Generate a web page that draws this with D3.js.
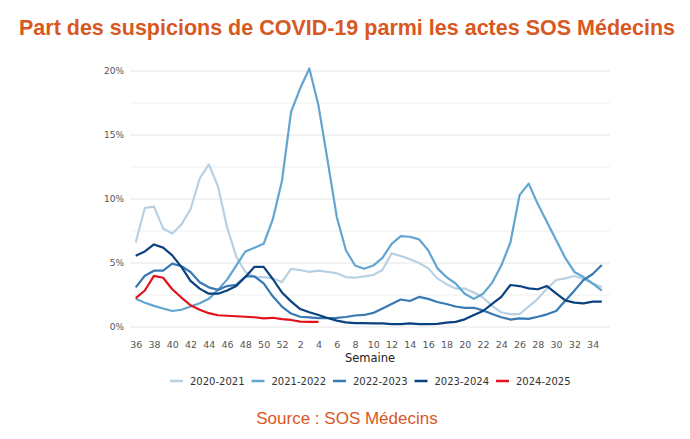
<!DOCTYPE html>
<html><head><meta charset="utf-8">
<script src="https://cdn.jsdelivr.net/npm/d3@7"></script>
<style>
html,body{margin:0;padding:0;background:#fff;}
svg{display:block;}
</style></head>
<body>
<script>
const weeks = [36,37,38,39,40,41,42,43,44,45,46,47,48,49,50,51,52,1,2,3,4,5,6,7,8,9,10,11,12,13,14,15,16,17,18,19,20,21,22,23,24,25,26,27,28,29,30,31,32,33,34,35];
const tickWeeks = [36,38,40,42,44,46,48,50,52,2,4,6,8,10,12,14,16,18,20,22,24,26,28,30,32,34];
const yTicks = [0,5,10,15,20];
const seasons = ["2020-2021","2021-2022","2022-2023","2023-2024","2024-2025"];
const s2020 = [6.6,9.3,9.4,7.7,7.3,8.0,9.2,11.6,12.7,11.0,7.8,5.5,4.3,3.9,3.9,3.8,3.5,4.55,4.45,4.3,4.4,4.3,4.2,3.9,3.85,3.95,4.06,4.45,5.75,5.55,5.3,5.0,4.6,3.8,3.35,3.0,3.0,2.7,2.3,1.65,1.15,1.0,1.0,1.6,2.2,3.0,3.67,3.8,3.98,3.75,3.4,3.12];
const s2021 = [2.2,1.9,1.65,1.45,1.25,1.35,1.6,1.85,2.2,2.9,3.7,4.8,5.9,6.2,6.5,8.4,11.4,16.8,18.65,20.2,17.3,13.0,8.6,6.0,4.8,4.55,4.8,5.4,6.5,7.1,7.05,6.85,6.0,4.6,3.9,3.4,2.6,2.2,2.6,3.45,4.8,6.6,10.3,11.2,9.6,8.2,6.8,5.4,4.3,3.9,3.4,2.85];
const s2022 = [3.1,4.0,4.4,4.4,4.95,4.75,4.3,3.5,3.1,2.9,3.2,3.3,3.95,3.95,3.4,2.4,1.6,1.05,0.8,0.75,0.7,0.7,0.72,0.78,0.9,0.94,1.1,1.45,1.8,2.15,2.03,2.35,2.2,1.95,1.8,1.6,1.5,1.5,1.3,1.02,0.76,0.58,0.68,0.63,0.8,0.99,1.25,2.05,2.84,3.67,4.14,4.84];
const s2023 = [5.57,5.9,6.45,6.2,5.6,4.7,3.6,3.0,2.6,2.6,2.85,3.2,3.9,4.7,4.7,3.75,2.7,2.0,1.4,1.15,0.94,0.7,0.5,0.36,0.3,0.3,0.28,0.28,0.23,0.22,0.28,0.22,0.22,0.25,0.34,0.4,0.6,0.94,1.25,1.8,2.35,3.28,3.2,3.02,2.95,3.2,2.63,2.08,1.9,1.85,1.98,1.98];
const s2024 = [2.25,2.85,4.0,3.85,2.95,2.3,1.7,1.35,1.08,0.92,0.88,0.84,0.8,0.76,0.68,0.72,0.62,0.55,0.42,0.4,0.4];
const seriesValues = [s2020,s2021,s2022,s2023,s2024];
const colors = ["#b7d1e3","#62a5d0","#3679b3","#0b417f","#e3121a"];

const W=690,H=439;
const svg=d3.select("body").append("svg").attr("width",W).attr("height",H);

const x=d3.scalePoint().domain(weeks).range([135.7,601.8]);
const y=d3.scaleLinear().domain([0,20]).range([327,71]);

// title
svg.append("text").attr("x",347).attr("y",35).attr("text-anchor","middle")
 .attr("font-family","Liberation Sans, Arial, sans-serif").attr("font-weight","bold")
 .attr("font-size",21.5).attr("fill","#d9581f")
 .text("Part des suspicions de COVID-19 parmi les actes SOS Médecins");

// gridlines
const grid=d3.range(0,20.01,2.5);
svg.append("g").selectAll("line").data(grid).join("line")
 .attr("x1",130).attr("x2",610)
 .attr("y1",d=>y(d)).attr("y2",d=>y(d))
 .attr("stroke",d=>d%5===0?"#e6e6e6":"#efefef").attr("stroke-width",1);

// y axis
const yAxis=d3.axisLeft(y).tickValues(yTicks).tickFormat(d=>d+"%").tickSize(0).tickPadding(0);
const gy=svg.append("g").attr("transform","translate(124,0)").call(yAxis);
gy.select(".domain").remove();
gy.selectAll("text").attr("font-family","DejaVu Sans, sans-serif").attr("font-size",9).attr("fill","#555");

// x axis
const xAxis=d3.axisBottom(x).tickValues(tickWeeks).tickSize(0).tickPadding(0);
const gx=svg.append("g").attr("transform","translate(0,343)").call(xAxis);
gx.select(".domain").remove();
gx.selectAll("text").attr("font-family","DejaVu Sans, sans-serif").attr("font-size",9.5).attr("fill","#555").attr("dy","0.55em").attr("y",0);

svg.append("text").attr("x",370).attr("y",362).attr("text-anchor","middle")
 .attr("font-family","DejaVu Sans, sans-serif").attr("font-size",11.5).attr("fill","#222").text("Semaine");

// lines
const line=d3.line().x((d,i)=>x(weeks[i])).y(d=>y(d)).curve(d3.curveLinear);
svg.append("g").selectAll("path").data(seriesValues).join("path")
 .attr("d",d=>line(d)).attr("fill","none")
 .attr("stroke",(d,i)=>colors[i]).attr("stroke-width",2.2)
 .attr("stroke-linejoin","round").attr("stroke-linecap","butt");

// legend
const lg=svg.append("g").selectAll("g").data(seasons).join("g")
 .attr("transform",(d,i)=>`translate(${190+81.5*i},381)`);
lg.append("line").attr("x1",-20).attr("x2",-7).attr("y1",0).attr("y2",0)
 .attr("stroke",(d,i)=>colors[i]).attr("stroke-width",2.5);
lg.append("text").attr("x",0).attr("y",0).attr("dy","0.35em")
 .attr("font-family","DejaVu Sans, sans-serif").attr("font-size",10).attr("fill","#333")
 .text(d=>d);

// source
svg.append("text").attr("x",347).attr("y",424).attr("text-anchor","middle")
 .attr("font-family","Liberation Sans, Arial, sans-serif").attr("font-size",17)
 .attr("fill","#d9581f").text("Source : SOS Médecins");
</script>
</body></html>
